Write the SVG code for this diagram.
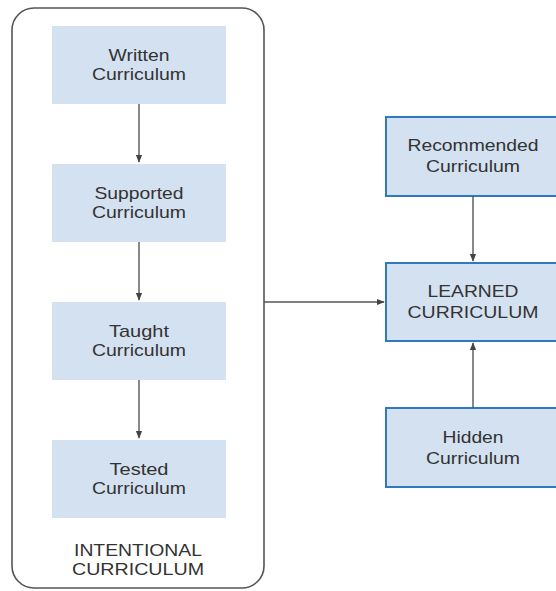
<svg xmlns="http://www.w3.org/2000/svg" width="556" height="591" viewBox="0 0 556 591">
  <style>
    .lbl { font-family: "Liberation Sans", Arial, sans-serif; font-size: 17px; fill: #333333; text-anchor: middle; }
    .stage { fill: #d4e1f0; }
    .ext { fill: #d4e1f0; stroke: #2f78c4; stroke-width: 2; }
    .frame { fill: #ffffff; stroke: #555555; stroke-width: 1.6; }
    .edge { stroke: #555555; stroke-width: 1.4; fill: none; marker-end: url(#arrow); }
  </style>
  <defs>
    <marker id="arrow" viewBox="0 0 10 10" refX="9" refY="5" markerWidth="8" markerHeight="8" markerUnits="userSpaceOnUse" orient="auto">
      <path d="M0,1 L10,5 L0,9 Z" fill="#444444"/>
    </marker>
  </defs>
  <rect width="556" height="591" fill="#ffffff"/>

  <!-- intentional curriculum container -->
  <g id="intentional">
    <rect class="frame" x="12" y="8" width="252" height="580" rx="22" ry="22"/>
    <text class="lbl" x="138" y="556" textLength="128" lengthAdjust="spacingAndGlyphs">INTENTIONAL</text>
    <text class="lbl" x="138" y="575" textLength="132" lengthAdjust="spacingAndGlyphs">CURRICULUM</text>
  </g>

  <g id="written">
    <rect class="stage" x="52" y="26" width="174" height="78"/>
    <text class="lbl" x="139" y="61" textLength="61" lengthAdjust="spacingAndGlyphs">Written</text>
    <text class="lbl" x="139" y="80" textLength="94" lengthAdjust="spacingAndGlyphs">Curriculum</text>
  </g>
  <g id="supported">
    <rect class="stage" x="52" y="164" width="174" height="78"/>
    <text class="lbl" x="139" y="199" textLength="89" lengthAdjust="spacingAndGlyphs">Supported</text>
    <text class="lbl" x="139" y="218" textLength="94" lengthAdjust="spacingAndGlyphs">Curriculum</text>
  </g>
  <g id="taught">
    <rect class="stage" x="52" y="302" width="174" height="78"/>
    <text class="lbl" x="139" y="337" textLength="60" lengthAdjust="spacingAndGlyphs">Taught</text>
    <text class="lbl" x="139" y="356" textLength="94" lengthAdjust="spacingAndGlyphs">Curriculum</text>
  </g>
  <g id="tested">
    <rect class="stage" x="52" y="440" width="174" height="78"/>
    <text class="lbl" x="139" y="475" textLength="59" lengthAdjust="spacingAndGlyphs">Tested</text>
    <text class="lbl" x="139" y="494" textLength="94" lengthAdjust="spacingAndGlyphs">Curriculum</text>
  </g>

  <g id="recommended">
    <rect class="ext" x="386" y="117" width="176" height="79"/>
    <text class="lbl" x="473" y="151" textLength="131" lengthAdjust="spacingAndGlyphs">Recommended</text>
    <text class="lbl" x="473" y="172" textLength="94" lengthAdjust="spacingAndGlyphs">Curriculum</text>
  </g>
  <g id="learned">
    <rect class="ext" x="386" y="263" width="176" height="78"/>
    <text class="lbl" x="473" y="297" textLength="91" lengthAdjust="spacingAndGlyphs">LEARNED</text>
    <text class="lbl" x="473" y="318" textLength="131" lengthAdjust="spacingAndGlyphs">CURRICULUM</text>
  </g>
  <g id="hidden">
    <rect class="ext" x="386" y="408" width="176" height="79"/>
    <text class="lbl" x="473" y="443" textLength="61" lengthAdjust="spacingAndGlyphs">Hidden</text>
    <text class="lbl" x="473" y="464" textLength="94" lengthAdjust="spacingAndGlyphs">Curriculum</text>
  </g>

  <g id="connectors">
    <line class="edge" x1="139" y1="104" x2="139" y2="162"/>
    <line class="edge" x1="139" y1="242" x2="139" y2="300"/>
    <line class="edge" x1="139" y1="380" x2="139" y2="438"/>
    <line class="edge" x1="264" y1="302" x2="384" y2="302"/>
    <line class="edge" x1="473" y1="196" x2="473" y2="261"/>
    <line class="edge" x1="473" y1="408" x2="473" y2="343"/>
  </g>
</svg>
